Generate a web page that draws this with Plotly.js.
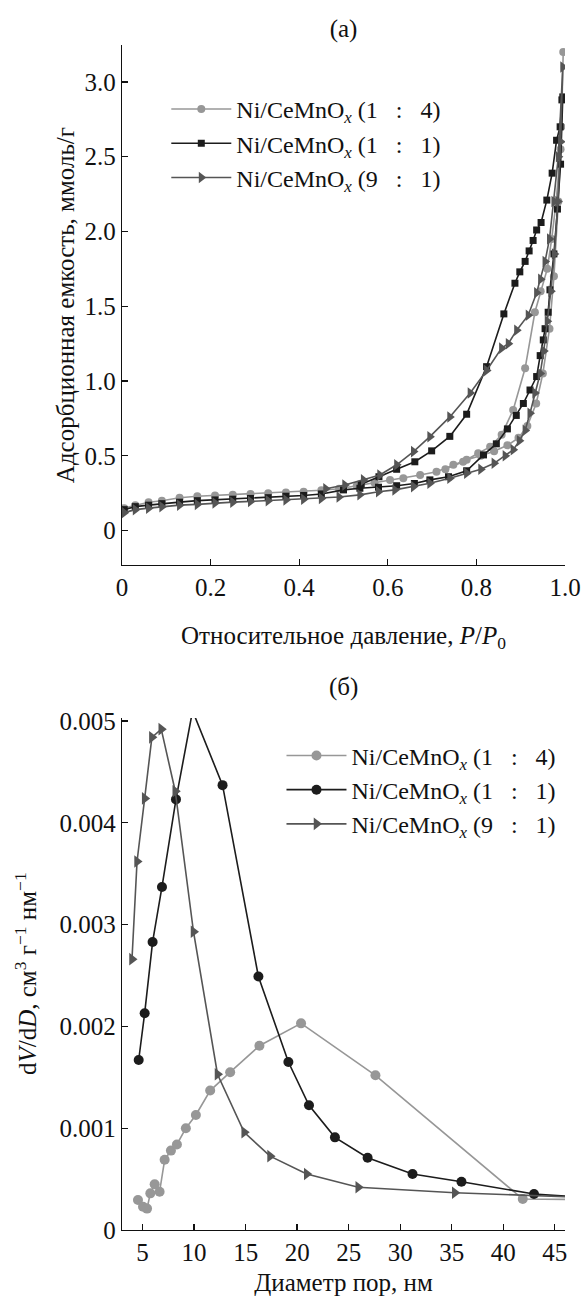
<!DOCTYPE html>
<html>
<head>
<meta charset="utf-8">
<script src="https://cdn.plot.ly/plotly-3.0.1.min.js"></script>
<style>html,body{margin:0;padding:0;background:#fff;}#chart{width:582px;height:1297px;}</style>
</head>
<body>
<div id="chart"></div>
<script>
// ---------- (a) adsorption isotherms: P/P0 vs capacity (adsorption branch then desorption branch)
const SP = "\u00A0\u00A0\u00A0";
const seriesNames = ["Ni/CeMnO<sub><i>x</i></sub> (1" + SP + ":" + SP + "4)",
                     "Ni/CeMnO<sub><i>x</i></sub> (1" + SP + ":" + SP + "1)",
                     "Ni/CeMnO<sub><i>x</i></sub> (9" + SP + ":" + SP + "1)"];

const p14 = [0.005,0.03,0.06,0.09,0.13,0.17,0.21,0.25,0.29,0.33,0.37,0.41,0.45,0.49,0.53,0.57,0.605,0.635,0.673,0.71,0.748,0.778,0.81,0.84,0.87,0.895,0.915,0.935,0.95,0.965,0.975,0.985,0.992,0.996,
             0.99,0.98,0.97,0.96,0.945,0.932,0.91,0.883,0.857,0.831,0.804,0.77,0.73];
const a14 = [0.15,0.17,0.19,0.20,0.22,0.23,0.235,0.24,0.245,0.25,0.255,0.26,0.27,0.28,0.30,0.32,0.339,0.35,0.372,0.394,0.44,0.473,0.50,0.53,0.57,0.62,0.70,0.85,1.05,1.35,1.7,2.2,2.7,3.2,
             2.55,2.2,1.95,1.75,1.6,1.46,1.085,0.807,0.64,0.56,0.517,0.46,0.41];

const p11 = [0.005,0.03,0.06,0.09,0.13,0.17,0.21,0.25,0.29,0.33,0.37,0.41,0.45,0.50,0.537,0.579,0.62,0.66,0.695,0.737,0.778,0.816,0.845,0.87,0.89,0.906,0.921,0.936,0.944,0.951,0.955,0.962,0.966,0.975,0.983,0.99,0.995,
             0.993,0.989,0.981,0.971,0.959,0.946,0.936,0.928,0.919,0.91,0.898,0.887,0.862,0.823,0.778,0.74,0.699,0.661,0.62,0.58,0.54];
const a11 = [0.14,0.16,0.17,0.18,0.19,0.20,0.205,0.21,0.215,0.22,0.23,0.235,0.245,0.272,0.283,0.29,0.30,0.315,0.339,0.36,0.40,0.506,0.58,0.68,0.77,0.85,0.94,1.03,1.17,1.275,1.35,1.46,1.61,1.85,2.15,2.45,2.9,
             2.88,2.70,2.61,2.39,2.21,2.06,2.01,1.94,1.87,1.80,1.73,1.654,1.449,1.096,0.778,0.63,0.533,0.46,0.41,0.36,0.31];

const p91 = [0.005,0.03,0.06,0.09,0.13,0.17,0.21,0.25,0.29,0.33,0.37,0.41,0.45,0.49,0.537,0.579,0.616,0.658,0.695,0.74,0.778,0.81,0.84,0.865,0.883,0.897,0.91,0.921,0.932,0.944,0.952,0.96,0.968,0.976,0.984,0.99,0.995,
             0.985,0.975,0.965,0.955,0.945,0.936,0.917,0.891,0.872,0.857,0.823,0.786,0.74,0.695,0.658,0.62,0.582,0.545,0.503,0.46];
const a91 = [0.12,0.14,0.15,0.16,0.17,0.175,0.185,0.19,0.195,0.20,0.205,0.21,0.215,0.225,0.239,0.26,0.272,0.294,0.317,0.35,0.383,0.41,0.45,0.50,0.54,0.60,0.67,0.785,0.92,1.05,1.2,1.4,1.6,1.85,2.2,2.6,3.1,
             2.5,2.2,1.95,1.8,1.68,1.59,1.44,1.34,1.25,1.22,1.07,0.92,0.76,0.628,0.528,0.44,0.372,0.339,0.305,0.28];

// ---------- (б) pore size distribution
const d14 = [4.55,5.04,5.43,5.75,6.17,6.65,7.14,7.75,8.33,9.2,10.17,11.56,13.5,16.34,20.38,27.6,41.9,48];
const v14 = [0.000294,0.000228,0.00021,0.00036,0.00045,0.000376,0.00069,0.00078,0.00084,0.001,0.00113,0.00137,0.00155,0.00181,0.00203,0.00152,0.000304,0.0003];

const d11 = [4.62,5.2,5.97,6.88,8.24,9.85,12.76,16.24,19.15,21.15,23.67,26.84,31.2,35.95,42.99,48];
const v11 = [0.00167,0.00213,0.00283,0.00337,0.00423,0.0051,0.00437,0.00249,0.00165,0.001225,0.00091,0.00071,0.00055,0.000474,0.000353,0.00032];

const d91 = [3.97,4.46,5.2,5.9,6.81,8.17,9.94,12.27,14.86,17.37,20.93,25.93,35.3,48];
const v91 = [0.00266,0.00362,0.00424,0.00484,0.00492,0.00431,0.00293,0.00153,0.00096,0.000725,0.00055,0.00042,0.000366,0.00032];

// ---------- ticks
const xTicksA = [0,0.2,0.4,0.6,0.8,1.0];
const xTickTextA = ["0","0.2","0.4","0.6","0.8","1.0"];
const yTicksA = [0,0.5,1.0,1.5,2.0,2.5,3.0];
const yTickTextA = ["0","0.5","1.0","1.5","2.0","2.5","3.0"];
const xTicksB = [5,10,15,20,25,30,35,40,45];
const yTicksB = [0,0.001,0.002,0.003,0.004,0.005];
const yTickTextB = ["0","0.001","0.002","0.003","0.004","0.005"];

const colLight = "#979797", colBlack = "#1c1c1c", colDark = "#555555";
const FONT = "Liberation Serif";

const traces = [
  {x:p14, y:a14, xaxis:"x", yaxis:"y", name:seriesNames[0], mode:"lines+markers", legend:"legend",
   line:{color:colLight, width:1.6}, marker:{symbol:"circle", size:8, color:colLight}},
  {x:p11, y:a11, xaxis:"x", yaxis:"y", name:seriesNames[1], mode:"lines+markers", legend:"legend",
   line:{color:colBlack, width:1.6}, marker:{symbol:"square", size:7, color:colBlack}},
  {x:p91, y:a91, xaxis:"x", yaxis:"y", name:seriesNames[2], mode:"lines+markers", legend:"legend",
   line:{color:colDark, width:1.6}, marker:{symbol:"triangle-right", size:10, color:colDark}},
  {x:d14, y:v14, xaxis:"x2", yaxis:"y2", name:seriesNames[0], mode:"lines+markers", legend:"legend2",
   line:{color:colLight, width:1.6}, marker:{symbol:"circle", size:10, color:colLight}},
  {x:d11, y:v11, xaxis:"x2", yaxis:"y2", name:seriesNames[1], mode:"lines+markers", legend:"legend2",
   line:{color:colBlack, width:1.6}, marker:{symbol:"circle", size:10, color:colBlack}},
  {x:d91, y:v91, xaxis:"x2", yaxis:"y2", name:seriesNames[2], mode:"lines+markers", legend:"legend2",
   line:{color:colDark, width:1.6}, marker:{symbol:"triangle-right", size:11, color:colDark}}
];

const axisBase = {showline:true, linecolor:"#111", linewidth:1.3, mirror:false, ticks:"inside", ticklen:6,
  tickcolor:"#111", tickwidth:1.3, showgrid:false, zeroline:false, tickfont:{family:FONT, size:25, color:"#111"}};

const titleFont = {family:FONT, size:25, color:"#111"};

const layout = {
  width:582, height:1297, paper_bgcolor:"#fff", plot_bgcolor:"#fff",
  margin:{l:122, r:17, t:45, b:67},
  font:{family:FONT, color:"#111"},
  showlegend:true,
  title:{text:"(a)", font:{family:FONT, size:25, color:"#111"}, x:0.5, xref:"paper", xanchor:"center", y:0.9785, yref:"container", yanchor:"middle"},
  xaxis:Object.assign({}, axisBase, {domain:[0,1], anchor:"y", range:[0,1], tickvals:xTicksA, ticktext:xTickTextA,
    title:{text:"Относительное давление, <i>P</i>/<i>P</i><sub>0</sub>", font:titleFont, standoff:26}}),
  yaxis:Object.assign({}, axisBase, {domain:[0.5612,1], anchor:"x", range:[-0.23,3.247], tickvals:yTicksA, ticktext:yTickTextA}),
  xaxis2:Object.assign({}, axisBase, {domain:[0,1], anchor:"y2", range:[3,46], tickvals:xTicksB,
    title:{text:"Диаметр пор, нм", font:titleFont, standoff:8}}),
  yaxis2:Object.assign({}, axisBase, {domain:[0,0.4321], anchor:"x2", range:[0,0.00503], tickvals:yTicksB, ticktext:yTickTextB}),
  legend:{x:0.1, y:0.9646, xanchor:"left", yanchor:"top", itemwidth:60, bgcolor:"rgba(0,0,0,0)", font:{family:FONT, size:24, color:"#111"}, tracegroupgap:0},
  legend2:{x:0.36, y:0.4191, xanchor:"left", yanchor:"top", itemwidth:60, bgcolor:"rgba(0,0,0,0)", font:{family:FONT, size:24, color:"#111"}, tracegroupgap:0},
  annotations:[
    {text:"(б)", xref:"paper", yref:"paper", x:0.5, y:0.4582, xanchor:"center", yanchor:"middle", showarrow:false,
     font:{family:FONT, size:25, color:"#111"}},
    {text:"Адсорбционная емкость, ммоль/г", xref:"paper", yref:"paper", x:-0.126, y:0.7806, xanchor:"center", yanchor:"middle",
     textangle:-90, showarrow:false, font:titleFont},
    {text:"d<i>V</i>/d<i>D</i>, см<sup>3</sup> г<sup>−1</sup> нм<sup>−1</sup>", xref:"paper", yref:"paper", x:-0.2167, y:0.216, xanchor:"center", yanchor:"middle",
     textangle:-90, showarrow:false, font:titleFont}
  ]
};

Plotly.newPlot("chart", traces, layout, {staticPlot:true, displayModeBar:false});
</script>
</body>
</html>
